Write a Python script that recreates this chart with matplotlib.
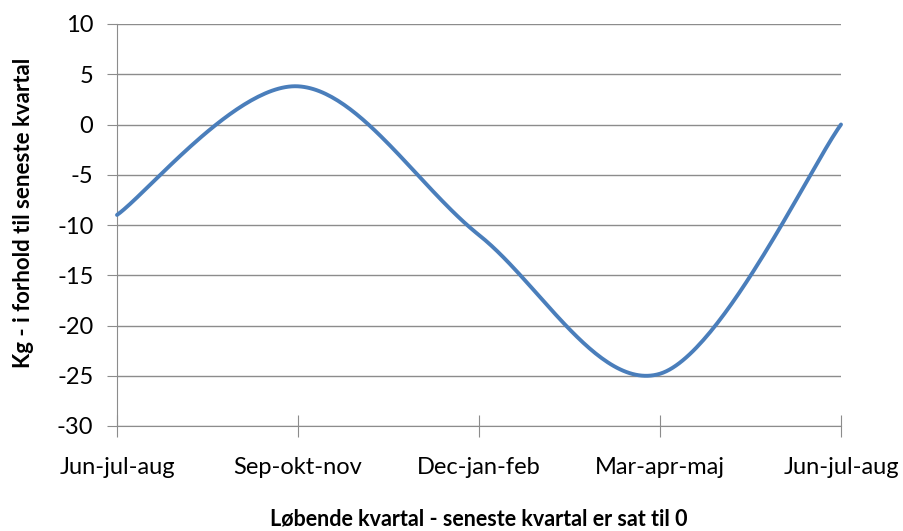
import numpy as np
import matplotlib
matplotlib.use("Agg")
import matplotlib.pyplot as plt

categories = ["Jun-jul-aug", "Sep-okt-nov", "Dec-jan-feb", "Mar-apr-maj", "Jun-jul-aug"]
values = [-9.0, 3.8, -11.0, -24.8, 0.0]
yticks = [10, 5, 0, -5, -10, -15, -20, -25, -30]

def excel_smooth(xs, ys, n=60):
    xs = np.asarray(xs, float); ys = np.asarray(ys, float)
    px = np.concatenate([[xs[0]], xs, [xs[-1]]])
    py = np.concatenate([[ys[0]], ys, [ys[-1]]])
    outx, outy = [], []
    t = np.linspace(0, 1, n)
    for i in range(1, len(px) - 2):
        p0 = np.array([px[i], py[i]]); p3 = np.array([px[i+1], py[i+1]])
        c1 = p0 + (np.array([px[i+1], py[i+1]]) - np.array([px[i-1], py[i-1]])) / 6
        c2 = p3 - (np.array([px[i+2], py[i+2]]) - np.array([px[i], py[i]])) / 6
        b = ((1-t)**3)[:, None]*p0 + (3*(1-t)**2*t)[:, None]*c1 + (3*(1-t)*t**2)[:, None]*c2 + (t**3)[:, None]*p3
        outx.extend(b[:, 0]); outy.extend(b[:, 1])
    return np.array(outx), np.array(outy)

fig = plt.figure(figsize=(9.04, 5.31), dpi=100)
ax = fig.add_axes([117/904, 1-426/531, (841-117)/904, (426-24)/531])

x = np.arange(len(categories))
sx, sy = excel_smooth(x, values)
ax.plot(sx, sy, color="#4A7EBB", lw=2.8, solid_capstyle="round", zorder=3, clip_on=False)

ax.set_xlim(0, len(categories)-1)
ax.set_ylim(-30, 10)
ax.set_yticks(yticks)
ax.set_yticklabels([str(v) for v in yticks], fontsize=17, family="Lato")
ax.set_xticks(x)
ax.set_xticklabels(categories, fontsize=17, family="Lato")
ax.grid(axis="y", color="#8C8C8C", lw=1)
for s in ["top", "right"]:
    ax.spines[s].set_visible(False)
ax.spines["left"].set_color("#8C8C8C")
ax.spines["bottom"].set_color("#8C8C8C")
ax.tick_params(axis="y", length=7, color="#8C8C8C", pad=10)
ax.tick_params(axis="x", direction="inout", length=16, color="#8C8C8C", pad=14)
ax.set_axisbelow(True)

ax.set_ylabel("Kg - i forhold til seneste kvartal", fontsize=16, fontweight="bold", family="Lato")
ax.yaxis.set_label_coords(-83/724, 0.53)
ax.set_xlabel("Løbende kvartal - seneste kvartal er sat til 0", fontsize=15.5, fontweight="bold", family="Lato")
ax.xaxis.set_label_coords(0.5, -82/402)
fig.savefig("out.png", dpi=100)
